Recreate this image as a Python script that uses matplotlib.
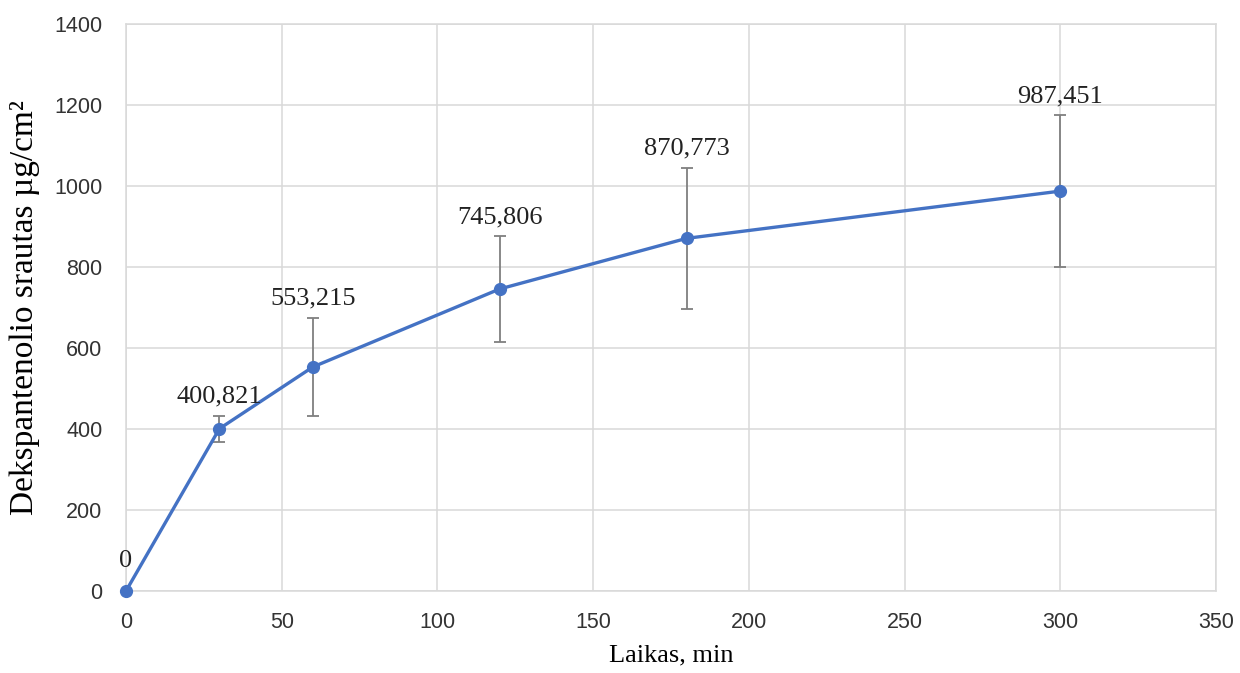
import matplotlib.pyplot as plt

# data
time_min = [0, 30, 60, 120, 180, 300]
flux = [0, 400.821, 553.215, 745.806, 870.773, 987.451]
flux_err = [0, 32, 122, 130, 174, 187]
point_labels = ["0", "400,821", "553,215", "745,806", "870,773", "987,451"]
x_ticks = [0, 50, 100, 150, 200, 250, 300, 350]
y_ticks = [0, 200, 400, 600, 800, 1000, 1200, 1400]

grid_col = '#d9d9d9'
line_col = '#4472c4'

fig = plt.figure(figsize=(12.4, 6.73), dpi=100)
ax = fig.add_axes([0.1016, 0.1218, 0.8790, 0.8425])

ax.errorbar(time_min, flux, yerr=flux_err, fmt='none', ecolor='#7f7f7f',
            elinewidth=1.3, capsize=4, capthick=1.3, zorder=3)
ax.plot(time_min, flux, '-o', color=line_col, linewidth=2.4, markersize=8.5,
        zorder=4, clip_on=False)

for x, y, e, lab in zip(time_min, flux, flux_err, point_labels):
    # the zero point has no error bar, its label sits a bit higher
    off = 14 if e == 0 else 6
    ax.annotate(lab, (x, y + e), xytext=(0, off), textcoords='offset points',
                ha='center', va='bottom', fontsize=19, family='Liberation Serif',
                color='#222222', zorder=5)

ax.set_xlim(0, 350)
ax.set_ylim(0, 1400)
ax.set_xticks(x_ticks)
ax.set_yticks(y_ticks)
ax.grid(True, color=grid_col, linewidth=1.1)
ax.set_axisbelow(True)
for s in ax.spines.values():
    s.set_color(grid_col)
    s.set_linewidth(1.1)
ax.tick_params(length=0, labelsize=15.5, labelcolor='#333333')
ax.tick_params(axis='y', pad=17)
ax.tick_params(axis='x', pad=15)
for t in ax.get_xticklabels() + ax.get_yticklabels():
    t.set_family('Liberation Sans')

ax.set_xlabel('Laikas, min', family='Liberation Serif', fontsize=19, labelpad=8)
ax.set_ylabel('Dekspantenolio srautas µg/cm²', family='Liberation Serif',
              fontsize=24, labelpad=10)

fig.savefig('out.png', dpi=100)
